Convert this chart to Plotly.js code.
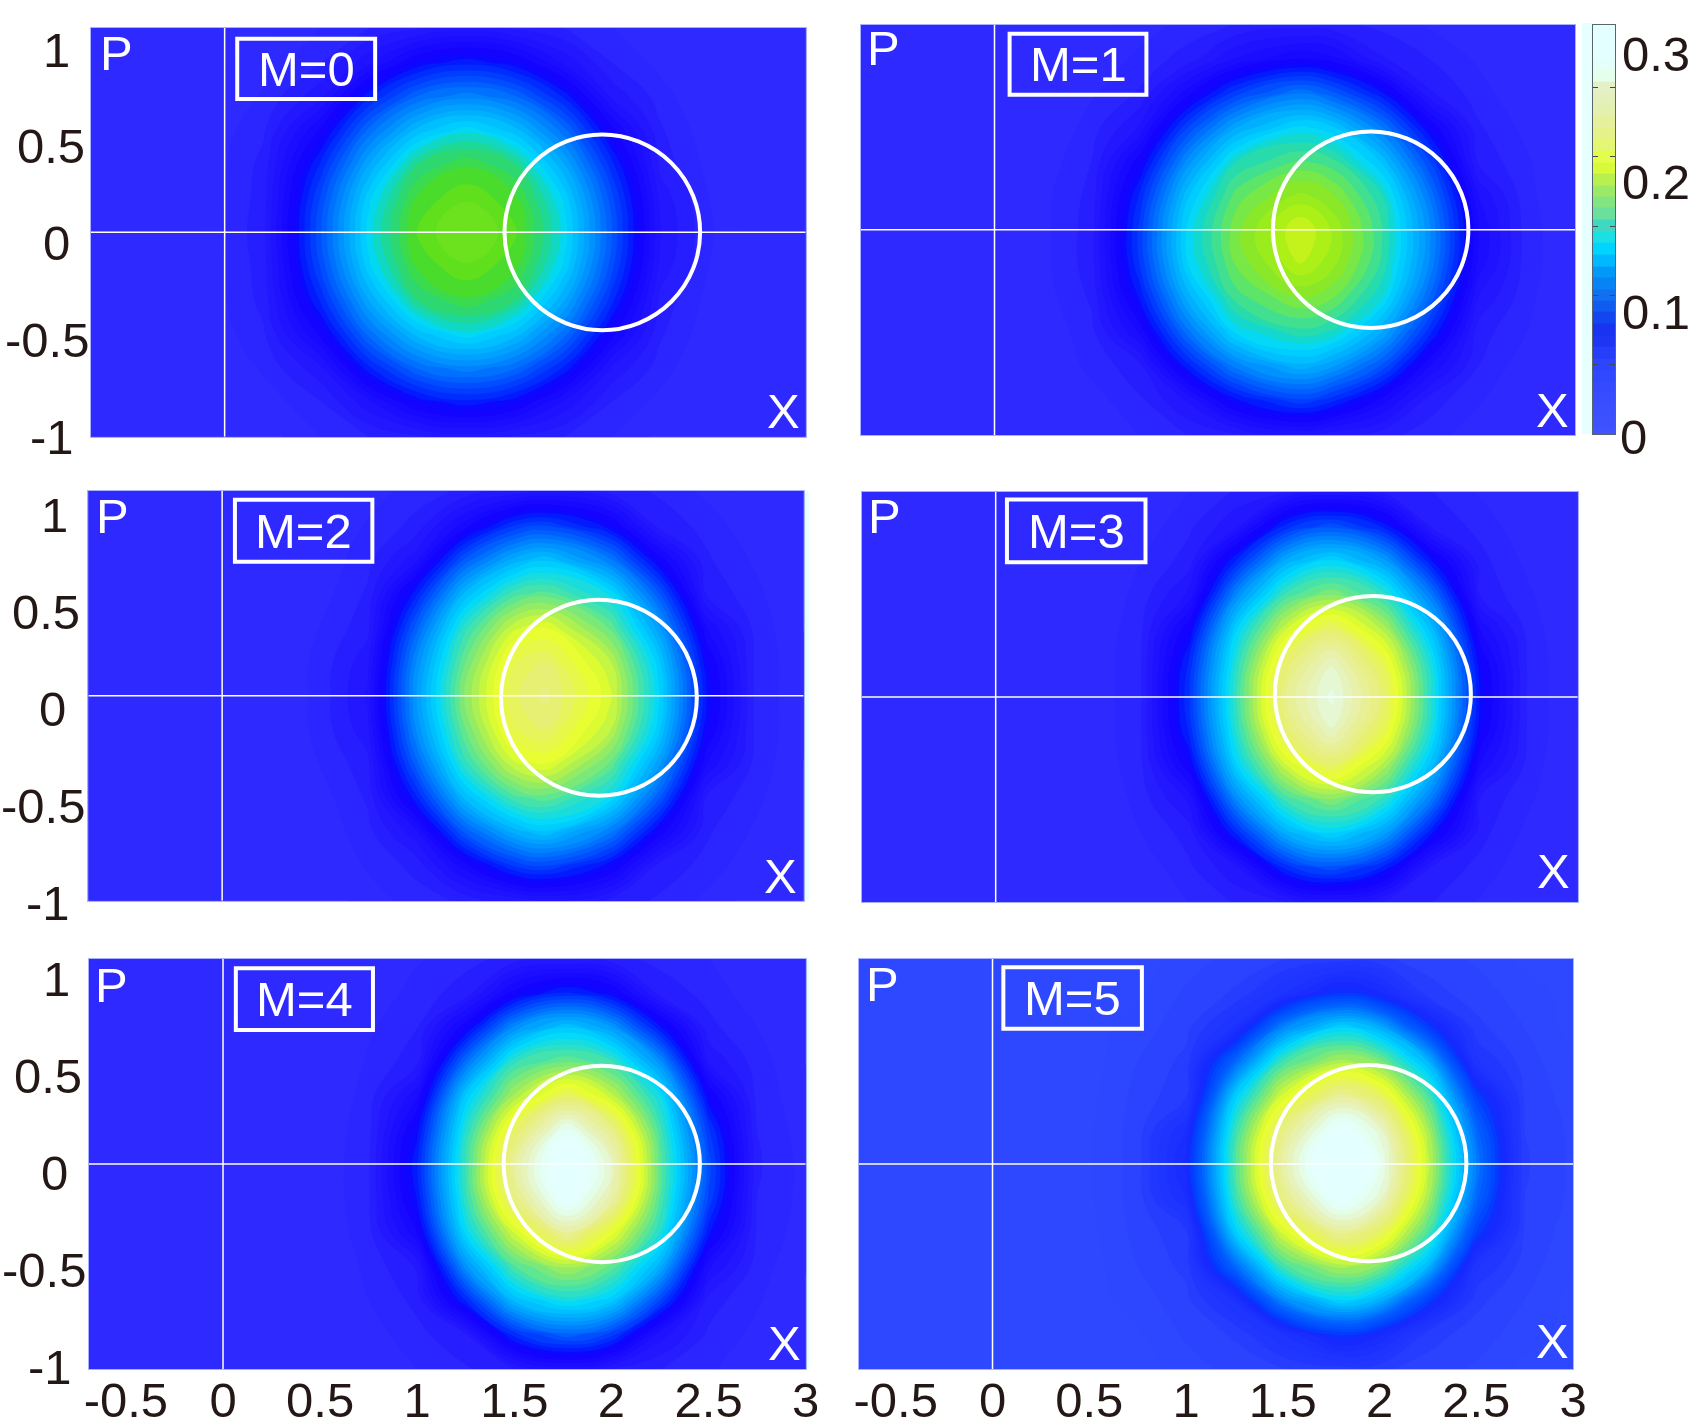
<!DOCTYPE html>
<html>
<head>
<meta charset="utf-8">
<title>Wigner maps M=0..5</title>
<script src="https://cdn.plot.ly/plotly-3.0.1.min.js"></script>
<style>
  html, body { margin: 0; padding: 0; background: #fff; }
  #chart { width: 1689px; height: 1420px; }
</style>
</head>
<body>
<div id="chart"></div>
<script>
// grid of the maps, in units of 0.001
const xsM0 = [-0.72, -0.2, 0.2, 0.5, 0.75, 1, 1.25, 1.5, 1.75, 2, 2.25, 2.5, 2.75, 3.02];
const xsM1 = [-0.72, -0.2, 0.2, 0.5, 0.75, 1, 1.25, 1.58, 1.75, 2, 2.25, 2.5, 2.75, 3.02];
const xsM2 = [-0.72, -0.2, 0.2, 0.5, 0.75, 1, 1.25, 1.5, 1.67, 2, 2.25, 2.5, 2.75, 3.02];
const xsM3 = [-0.72, -0.2, 0.2, 0.5, 0.75, 1, 1.25, 1.5, 1.73, 2, 2.25, 2.5, 2.75, 3.02];
const xsM4 = [-0.72, -0.2, 0.2, 0.5, 0.75, 1, 1.25, 1.5, 1.77, 2, 2.25, 2.5, 2.75, 3.02];
const xsM5 = [-0.72, -0.2, 0.2, 0.5, 0.75, 1, 1.25, 1.5, 1.8, 2, 2.25, 2.5, 2.75, 3.02];
const xGrids = [xsM0, xsM1, xsM2, xsM3, xsM4, xsM5];
const ys = [-1.06, -0.875, -0.7, -0.525, -0.35, -0.175, 0, 0.175, 0.35, 0.525, 0.7, 0.875, 1.06];

const zM0 = [
  [0, 0, 0, 9, 15, 19, 23, 19, 15, 9, 1, 0, 0, 0],
  [0, 0, 5, 15, 32, 53, 61, 53, 32, 15, 7, 0, 0, 0],
  [0, 0, 10, 26, 62, 88, 97, 88, 62, 26, 12, 2, 0, 0],
  [0, 0, 14, 47, 90, 120, 133, 120, 90, 47, 16, 5, 0, 0],
  [0, 0, 17, 65, 112, 147, 158, 147, 112, 65, 19, 7, 0, 0],
  [0, 0, 18, 77, 128, 161, 170, 161, 128, 77, 25, 9, 0, 0],
  [0, 0, 19, 81, 133, 166, 180, 166, 133, 81, 27, 10, 0, 0],
  [0, 0, 18, 77, 128, 161, 170, 161, 128, 77, 25, 9, 0, 0],
  [0, 0, 17, 65, 112, 147, 158, 147, 112, 65, 19, 7, 0, 0],
  [0, 0, 14, 47, 90, 120, 133, 120, 90, 47, 16, 5, 0, 0],
  [0, 0, 10, 26, 62, 88, 97, 88, 62, 26, 12, 2, 0, 0],
  [0, 0, 5, 15, 32, 53, 61, 53, 32, 15, 7, 0, 0, 0],
  [0, 0, 0, 9, 15, 19, 23, 19, 15, 9, 1, 0, 0, 0]
];
const zM1 = [
  [0, 0, 0, 1, 9, 15, 19, 26, 22, 17, 12, 5, 0, 0],
  [0, 0, 0, 6, 14, 28, 56, 74, 65, 43, 18, 10, 2, 0],
  [0, 0, 0, 11, 19, 61, 96, 115, 106, 80, 39, 15, 5, 0],
  [0, 0, 2, 13, 40, 91, 131, 145, 140, 112, 65, 18, 9, 0],
  [0, 0, 4, 16, 58, 114, 150, 165, 159, 136, 86, 27, 11, 0],
  [0, 0, 5, 18, 69, 129, 160, 183, 173, 146, 98, 37, 12, 2],
  [0, 0, 5, 18, 71, 131, 163, 189, 176, 148, 100, 39, 12, 2],
  [0, 0, 5, 17, 64, 122, 156, 173, 166, 142, 92, 33, 11, 1],
  [0, 0, 3, 15, 49, 102, 141, 154, 149, 122, 75, 20, 10, 0],
  [0, 0, 0, 12, 28, 75, 111, 131, 124, 94, 51, 16, 7, 0],
  [0, 0, 0, 8, 16, 43, 73, 93, 83, 59, 22, 12, 3, 0],
  [0, 0, 0, 3, 11, 18, 34, 46, 42, 22, 15, 8, 0, 0],
  [0, 0, 0, 0, 5, 11, 15, 17, 16, 13, 8, 2, 0, 0]
];
const zM2 = [
  [0, 0, 0, 0, 5, 12, 16, 21, 25, 18, 14, 7, 0, 0],
  [0, 0, 0, 1, 10, 17, 42, 69, 75, 54, 19, 13, 4, 0],
  [0, 0, 0, 4, 13, 31, 82, 113, 122, 95, 50, 16, 8, 0],
  [0, 0, 0, 6, 16, 61, 118, 150, 156, 134, 83, 20, 11, 0],
  [0, 0, 0, 9, 19, 84, 144, 181, 189, 158, 108, 39, 13, 2],
  [0, 0, 0, 11, 25, 99, 158, 200, 207, 178, 126, 52, 14, 3],
  [0, 0, 0, 11, 28, 104, 165, 205, 215, 185, 131, 57, 14, 3],
  [0, 0, 0, 11, 25, 99, 158, 200, 207, 178, 126, 52, 14, 3],
  [0, 0, 0, 9, 19, 84, 144, 181, 189, 158, 108, 39, 13, 2],
  [0, 0, 0, 6, 16, 61, 118, 150, 156, 134, 83, 20, 11, 0],
  [0, 0, 0, 4, 13, 31, 82, 113, 122, 95, 50, 16, 8, 0],
  [0, 0, 0, 1, 10, 17, 42, 69, 75, 54, 19, 13, 4, 0],
  [0, 0, 0, 0, 5, 12, 16, 21, 25, 18, 14, 7, 0, 0]
];
const zM3 = [
  [0, 0, 0, 0, 1, 9, 16, 20, 27, 19, 15, 8, 0, 0],
  [0, 0, 0, 0, 5, 14, 27, 67, 80, 62, 20, 13, 4, 0],
  [0, 0, 0, 0, 9, 18, 66, 114, 130, 108, 57, 17, 7, 0],
  [0, 0, 0, 1, 12, 29, 102, 150, 165, 145, 92, 20, 10, 0],
  [0, 0, 0, 3, 14, 51, 131, 183, 207, 175, 119, 38, 12, 1],
  [0, 0, 0, 4, 15, 65, 145, 210, 236, 200, 136, 51, 13, 2],
  [0, 0, 0, 4, 15, 69, 150, 220, 245, 210, 140, 55, 13, 2],
  [0, 0, 0, 4, 15, 65, 145, 210, 236, 200, 136, 51, 13, 2],
  [0, 0, 0, 3, 14, 51, 131, 183, 207, 175, 119, 38, 12, 1],
  [0, 0, 0, 1, 12, 29, 102, 150, 165, 145, 92, 20, 10, 0],
  [0, 0, 0, 0, 9, 18, 66, 114, 130, 108, 57, 17, 7, 0],
  [0, 0, 0, 0, 5, 14, 27, 67, 80, 62, 20, 13, 4, 0],
  [0, 0, 0, 0, 1, 9, 16, 20, 27, 19, 15, 8, 0, 0]
];
const zM4 = [
  [0, 0, 0, 0, 1, 9, 14, 19, 28, 20, 15, 10, 3, 0],
  [0, 0, 0, 0, 6, 13, 21, 67, 86, 73, 30, 14, 7, 0],
  [0, 0, 0, 0, 9, 17, 64, 119, 138, 126, 75, 18, 10, 0],
  [0, 0, 0, 1, 11, 22, 103, 153, 174, 157, 114, 35, 12, 3],
  [0, 0, 0, 3, 13, 45, 132, 184, 225, 192, 141, 59, 14, 5],
  [0, 0, 0, 4, 14, 58, 145, 215, 263, 228, 153, 74, 15, 6],
  [0, 0, 0, 4, 14, 62, 148, 224, 274, 237, 156, 78, 16, 6],
  [0, 0, 0, 4, 13, 55, 141, 206, 252, 218, 150, 70, 15, 5],
  [0, 0, 0, 2, 12, 38, 125, 173, 206, 180, 135, 52, 13, 4],
  [0, 0, 0, 0, 10, 19, 90, 146, 159, 148, 102, 27, 12, 2],
  [0, 0, 0, 0, 8, 15, 50, 102, 124, 107, 59, 17, 9, 0],
  [0, 0, 0, 0, 4, 12, 18, 49, 66, 54, 19, 13, 5, 0],
  [0, 0, 0, 0, 0, 8, 13, 17, 19, 17, 13, 9, 1, 0]
];
const zM5 = [
  [0, 0, 0, 0, 0, 6, 11, 14, 17, 16, 12, 8, 1, 0],
  [0, 0, 0, 0, 2, 10, 16, 33, 59, 47, 18, 12, 6, 0],
  [0, 0, 0, 0, 6, 13, 34, 98, 130, 115, 62, 17, 9, 0],
  [0, 0, 0, 0, 9, 17, 84, 150, 175, 164, 117, 29, 12, 3],
  [0, 0, 0, 1, 11, 20, 125, 185, 223, 206, 152, 63, 14, 5],
  [0, 0, 0, 2, 12, 40, 145, 216, 263, 240, 173, 85, 15, 7],
  [0, 0, 0, 2, 12, 47, 151, 227, 285, 251, 180, 93, 16, 7],
  [0, 0, 0, 2, 12, 40, 145, 216, 263, 240, 173, 85, 15, 7],
  [0, 0, 0, 1, 11, 20, 125, 185, 223, 206, 152, 63, 14, 5],
  [0, 0, 0, 0, 9, 17, 84, 150, 175, 164, 117, 29, 12, 3],
  [0, 0, 0, 0, 6, 13, 34, 98, 130, 115, 62, 17, 9, 0],
  [0, 0, 0, 0, 2, 10, 16, 33, 59, 47, 18, 12, 6, 0],
  [0, 0, 0, 0, 0, 6, 11, 14, 17, 16, 12, 8, 1, 0]
];
const zGrids = [zM0, zM1, zM2, zM3, zM4, zM5];

// labels and marks
const panelNames = ['M=0', 'M=1', 'M=2', 'M=3', 'M=4', 'M=5'];
const xTickVals = [-0.5, 0, 0.5, 1, 1.5, 2, 2.5, 3];
const xTickText = ['-0.5', '0', '0.5', '1', '1.5', '2', '2.5', '3'];
const yTickVals = [1, 0.5, 0, -0.5, -1];
const yTickText = ['1', '0.5', '0', '-0.5', '-1'];
const circleX = [1.95, 1.944, 1.944, 1.944, 1.95, 1.944];
const circleY = [0, 0, -0.01, 0.015, 0, 0.005];
const circleR = 0.505;

// colour bar bands, bottom to top
const barLevels = [0, 8, 17, 25, 34, 42, 50, 59, 67, 75, 84, 92, 100, 109, 117, 125, 134, 142, 150, 159,
  167, 175, 184, 192, 200, 209, 217, 225, 234, 242, 250, 259, 267, 275, 284, 292];
const barTicks = [50, 100, 150, 200, 250];
const barLabels = ['0.3', '0.2', '0.1', '0'];

// page layout, in pixels of the 1689x1420 picture
const W = 1689, H = 1420;
const panelLeft = [91, 861, 88.4, 861.8, 89, 859];
const panelRight = [805.7, 1575, 803.6, 1577.8, 805.7, 1573];
const panelTop = [28, 24.5, 491, 492, 959, 959];
const panelBottom = [436.7, 435, 900.7, 902, 1369, 1369];
const xRange = [-0.69, 3];
const yRange = [-1.055, 1.055];
const boxX = [[0.065, 0.777], [0.078, 0.785], [0.066, 0.775], [0.058, 0.772], [0.066, 0.772], [0.056, 0.772]];
const boxY = [[0.689, 1.0], [0.694, 1.008], [0.69, 1.01], [0.694, 1.016], [0.69, 1.007], [0.696, 1.012]];
const pPos = [[-0.56, 0.928], [-0.574, 0.933], [-0.568, 0.925], [-0.575, 0.933], [-0.576, 0.92], [-0.567, 0.924]];
const xPos = [[2.883, -0.922], [2.885, -0.928], [2.883, -0.928], [2.877, -0.897], [2.89, -0.922], [2.895, -0.913]];
// y labels sit by hand in the original: centre pixel per label, and a shift down
const yLabelCentre = {
  0: [56, 51, 56, 47, 52],
  2: [54, 46, 52, 43, 48],
  4: [56, 48, 54, 44, 50]
};
const yLabelShift = { 0: 11, 2: 13, 4: 9 };

const textColor = '#231815';
const labelFont = { family: 'Liberation Sans, Arial, sans-serif', size: 49, color: textColor };
const whiteFont = { family: 'Liberation Sans, Arial, sans-serif', size: 49, color: '#ffffff' };

// colours, keyed on value in units of 0.001
const zMax = 300;
const upperStops = [[190, '#e8ff28'], [210, '#e8f070'], [232, '#e8f0b0'], [250, '#e4fff0'], [262, '#e4ffff'], [300, '#e4ffff']];
const lowStops = [[0, '#2e2aff'], [8, '#2c28ff'], [20, '#2418ff'], [50, '#1000ff'], [60, '#0020ff'], [80, '#0058ff'], [100, '#0090ff'], [120, '#00c0ff'], [130, '#00d8ff']];
const lowStopsM5 = [[0, '#2e48ff'], [8, '#2c44ff'], [20, '#2238ff'], [50, '#1428ff'], [60, '#0040ff'], [80, '#0060ff'], [100, '#0090ff'], [120, '#00c0ff'], [130, '#00d8ff']];
const midStops = [[145, '#30e0c0'], [160, '#70e880'], [175, '#b0f050']];
const midStopsM0 = [[140, '#14d8b0'], [150, '#2ed870'], [159, '#40dc40'], [165, '#50dc1c'], [171, '#6ce21e'], [182, '#6ce21e']];
const midStopsM1 = [[140, '#18d8c0'], [150, '#40e090'], [160, '#70e850'], [170, '#90e820'], [178, '#a4f018'], [186, '#bcf018']];
const barStops = [[0, '#4055ff'], [50, '#2d45ff'], [73, '#1a30f0'], [85, '#1048f0'], [100, '#1070f0'], [115, '#0090f8'],
  [125, '#00b8ff'], [135, '#00d8ff'], [143, '#20e0e0'], [150, '#40d8c0'], [160, '#70e098'], [172, '#90e870'], [184, '#b8f050'],
  [195, '#e4ff30'], [207, '#e4f870'], [220, '#e4f090'], [235, '#e4f0b0'], [250, '#e4f0c8'], [258, '#e4ffe8'], [270, '#e4ffff'], [300, '#e4ffff']];

function toScale(stops) {
  return stops.map(s => [s[0] / zMax, s[1]]);
}
const panelScales = [
  toScale(lowStops.concat(midStopsM0, upperStops)),
  toScale(lowStops.concat(midStopsM1, upperStops)),
  toScale(lowStops.concat(midStops, upperStops)),
  toScale(lowStops.concat(midStops, upperStops)),
  toScale(lowStops.concat(midStops, upperStops)),
  toScale(lowStopsM5.concat(midStops, upperStops))
];

const data = [];
const shapes = [];
const annotations = [];
const layout = {
  width: W,
  height: H,
  margin: { l: 0, r: 0, t: 0, b: 0 },
  paper_bgcolor: '#ffffff',
  plot_bgcolor: '#2c28ff',
  showlegend: false,
  shapes: shapes,
  annotations: annotations
};

panelNames.forEach((name, i) => {
  const n = i === 0 ? '' : String(i + 1);
  const xa = 'x' + n, ya = 'y' + n;

  data.push({
    type: 'contour',
    x: xGrids[i],
    y: ys,
    z: zGrids[i],
    xaxis: xa,
    yaxis: ya,
    zmin: 0,
    zmax: zMax,
    autocontour: false,
    contours: { start: 3, end: 300, size: 6, coloring: 'fill', showlines: false },
    line: { width: 0, smoothing: 1.3 },
    colorscale: panelScales[i],
    showscale: false,
    hoverinfo: 'skip'
  });

  const bottomRow = i >= 4;
  layout['xaxis' + n] = {
    domain: [panelLeft[i] / W, panelRight[i] / W],
    anchor: ya,
    range: xRange,
    showgrid: false,
    zeroline: false,
    showline: true,
    mirror: true,
    linecolor: '#a8b0ff',
    linewidth: 1,
    ticks: '',
    tickmode: 'array',
    tickvals: xTickVals,
    ticktext: xTickText,
    showticklabels: bottomRow,
    tickfont: labelFont,
    ticklabelstandoff: -12,
    automargin: false
  };
  layout['yaxis' + n] = {
    domain: [1 - panelBottom[i] / H, 1 - panelTop[i] / H],
    anchor: xa,
    range: yRange,
    showgrid: false,
    zeroline: false,
    showline: true,
    mirror: true,
    linecolor: '#a8b0ff',
    linewidth: 1,
    ticks: '',
    showticklabels: false,
    automargin: false
  };

  // cross through the origin
  const lineStyle = { color: '#ffffff', width: 1.5 };
  shapes.push({ type: 'line', xref: xa, yref: ya, x0: 0, x1: 0, y0: yRange[0], y1: yRange[1], line: lineStyle });
  shapes.push({ type: 'line', xref: xa, yref: ya, x0: xRange[0], x1: xRange[1], y0: 0, y1: 0, line: lineStyle });
  // circle
  shapes.push({
    type: 'circle', xref: xa, yref: ya,
    x0: circleX[i] - circleR, x1: circleX[i] + circleR,
    y0: circleY[i] - circleR, y1: circleY[i] + circleR,
    line: { color: '#ffffff', width: 4 }
  });
  // name box
  shapes.push({
    type: 'rect', xref: xa, yref: ya,
    x0: boxX[i][0], x1: boxX[i][1], y0: boxY[i][0], y1: boxY[i][1],
    line: { color: '#ffffff', width: 4 }
  });

  const inPanel = (text, x, y) => annotations.push({
    text: text, x: x, y: y, xref: xa, yref: ya, showarrow: false,
    xanchor: 'center', yanchor: 'middle', font: whiteFont
  });
  inPanel(name, (boxX[i][0] + boxX[i][1]) / 2, (boxY[i][0] + boxY[i][1]) / 2);
  inPanel('P', pPos[i][0], pPos[i][1]);
  inPanel('X', xPos[i][0], xPos[i][1]);

  if (yLabelCentre[i]) {
    yTickText.forEach((t, k) => annotations.push({
      text: t, x: yLabelCentre[i][k] / W, xref: 'paper', y: yTickVals[k], yref: ya,
      yshift: -yLabelShift[i], showarrow: false, xanchor: 'center', yanchor: 'middle', font: labelFont
    }));
  }
});

// colour bar
data.push({
  type: 'heatmap',
  x: [0],
  y: barLevels,
  z: barLevels.map(v => [v]),
  xaxis: 'x7',
  yaxis: 'y7',
  zmin: 0,
  zmax: zMax,
  colorscale: toScale(barStops),
  showscale: false,
  hoverinfo: 'skip'
});
layout.xaxis7 = {
  domain: [1593 / W, 1615 / W], anchor: 'y7', showgrid: false, zeroline: false,
  showline: true, mirror: true, linecolor: '#5a6470', linewidth: 1, ticks: '', showticklabels: false
};
layout.yaxis7 = {
  domain: [1 - 434 / H, 1 - 25 / H], anchor: 'x7', range: [0, 295], showgrid: false, zeroline: false,
  showline: true, mirror: 'ticks', linecolor: '#5a6470', linewidth: 1,
  ticks: 'inside', ticklen: 5, tickcolor: '#404850', tickwidth: 1,
  tickmode: 'array', tickvals: barTicks, showticklabels: false
};
const barLabelX = [1620, 1620, 1620, 1618];
const barLabelY = [54, 182, 312, 437];
barLabels.forEach((t, k) => annotations.push({
  text: t, x: barLabelX[k] / W, y: 1 - barLabelY[k] / H, xref: 'paper', yref: 'paper', showarrow: false,
  xanchor: 'left', yanchor: 'middle', font: labelFont
}));

// pale strips left at the panel edges
const stripLeft = [1582, 804, 806];
const stripRight = [1592, 809, 809];
const stripTop = [23, 491, 959];
const stripBottom = [434, 900, 1369];
stripLeft.forEach((x, k) => shapes.push({
  type: 'rect', xref: 'paper', yref: 'paper', layer: 'below',
  x0: x / W, x1: stripRight[k] / W, y0: 1 - stripBottom[k] / H, y1: 1 - stripTop[k] / H,
  fillcolor: '#e6ffff', line: { width: 0 }
}));

Plotly.newPlot('chart', data, layout, { displayModeBar: false, responsive: false });
</script>
</body>
</html>
